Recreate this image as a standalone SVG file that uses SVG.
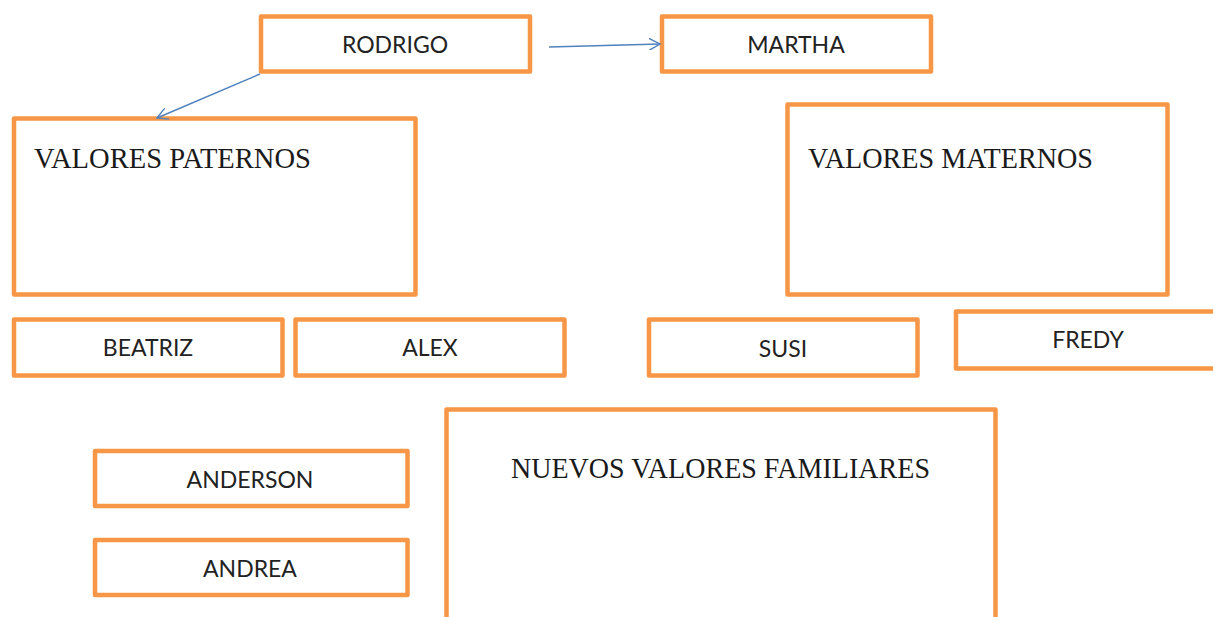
<svg xmlns="http://www.w3.org/2000/svg" width="1213" height="617" viewBox="0 0 1213 617">
<style>
.box{fill:#fff;stroke:#F79646;stroke-width:4.5;stroke-linejoin:round}
.lbl{font-family:Lato,"Liberation Sans",sans-serif;font-size:23px;fill:#222;text-anchor:middle}
.big{font-family:"Liberation Serif","Times New Roman",serif;font-size:28.5px;fill:#1a1a1a}
.con{fill:none;stroke:#4F81BD;stroke-width:1.4}
</style>
<defs>
<marker id="arr" viewBox="0 0 12 12" refX="11" refY="6" markerWidth="12" markerHeight="12" markerUnits="userSpaceOnUse" orient="auto">
<path d="M0,0 L11,6 L0,12" fill="none" stroke="#4F81BD" stroke-width="1.4"/>
</marker>
</defs>
<rect width="1213" height="617" fill="#fff"/>
<g id="rodrigo"><rect class="box" x="261" y="16.5" width="269" height="55"/><text class="lbl" x="395" y="53">RODRIGO</text></g>
<g id="martha"><rect class="box" x="662" y="16.5" width="269" height="55"/><text class="lbl" x="796" y="53">MARTHA</text></g>
<g id="valores-paternos"><rect class="box" x="14" y="118.5" width="401.5" height="176"/><text class="big" x="34" y="168" textLength="277" lengthAdjust="spacingAndGlyphs">VALORES PATERNOS</text></g>
<g id="valores-maternos"><rect class="box" x="787.5" y="104.5" width="380" height="190"/><text class="big" x="808" y="168" textLength="285" lengthAdjust="spacingAndGlyphs">VALORES MATERNOS</text></g>
<g id="beatriz"><rect class="box" x="14" y="319.5" width="268.5" height="56"/><text class="lbl" x="148" y="356">BEATRIZ</text></g>
<g id="alex"><rect class="box" x="295.5" y="319.5" width="269" height="56"/><text class="lbl" x="430" y="356">ALEX</text></g>
<g id="susi"><rect class="box" x="649" y="319.5" width="268.5" height="56"/><text class="lbl" x="783" y="357">SUSI</text></g>
<g id="fredy"><rect class="box" x="956" y="311.5" width="270" height="57"/><text class="lbl" x="1088" y="348">FREDY</text></g>
<g id="anderson"><rect class="box" x="95" y="451" width="312.5" height="55"/><text class="lbl" x="250" y="488">ANDERSON</text></g>
<g id="andrea"><rect class="box" x="95" y="540" width="312.5" height="55"/><text class="lbl" x="250" y="577">ANDREA</text></g>
<g id="nuevos-valores"><rect class="box" x="446.5" y="409.5" width="549" height="230"/><text class="big" x="511" y="478" textLength="419" lengthAdjust="spacingAndGlyphs">NUEVOS VALORES FAMILIARES</text></g>
<g id="connectors">
<line class="con" x1="549" y1="47" x2="660" y2="44" marker-end="url(#arr)"/>
<line class="con" x1="260" y1="74" x2="157" y2="118" marker-end="url(#arr)"/>
</g>
</svg>
